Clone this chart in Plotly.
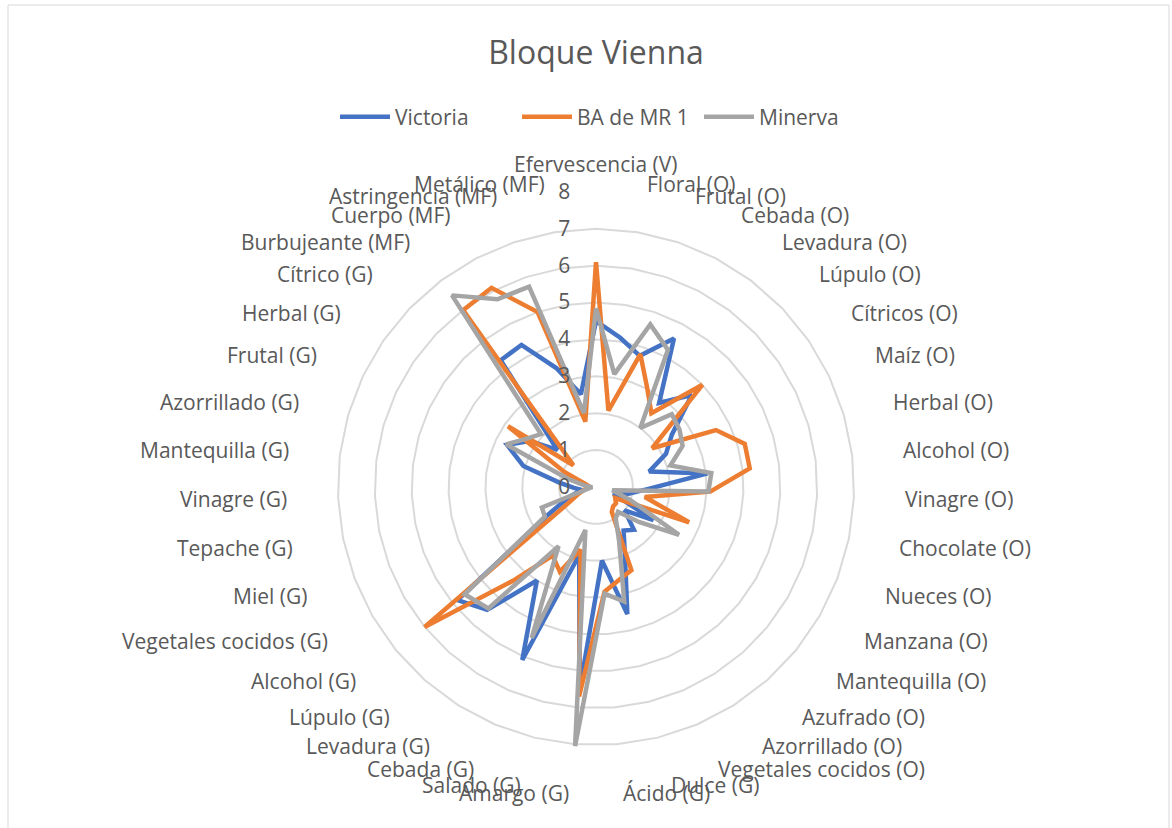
import math
import plotly.graph_objects as go

categories = ["Efervescencia (V)", "Floral (O)", "Frutal (O)", "Cebada (O)", "Levadura (O)",
              "Lúpulo (O)", "Cítricos (O)", "Maíz (O)", "Herbal (O)", "Alcohol (O)",
              "Vinagre (O)", "Chocolate (O)", "Nueces (O)", "Manzana (O)", "Mantequilla (O)",
              "Azufrado (O)", "Azorrillado (O)", "Vegetales cocidos (O)", "Dulce (G)", "Ácido (G)",
              "Amargo (G)", "Salado (G)", "Cebada (G)", "Levadura (G)", "Lúpulo (G)",
              "Alcohol (G)", "Vegetales cocidos (G)", "Miel (G)", "Tepache (G)", "Vinagre (G)",
              "Mantequilla (G)", "Azorrillado (G)", "Frutal (G)", "Herbal (G)", "Cítrico (G)",
              "Burbujeante (MF)", "Cuerpo (MF)", "Astringencia (MF)", "Metálico (MF)"]

victoria = [4.5, 4.1, 3.75, 4.55, 2.85, 3.6, 2.5, 2.1, 1.5, 3.05,
            1.4, 0.9, 0.5, 1.8, 1.0, 1.55, 1.4, 2.0, 3.55, 2.0,
            5.5, 1.9, 5.1, 3.0, 4.45, 4.85, 1.5, 0.8, 0.4, 0.6,
            1.0, 2.05, 2.67, 2.2, 1.45, 4.3, 4.35, 3.4, 2.55]

ba_mr1 = [6.1, 2.1, 3.8, 3.0, 2.5, 4.0, 1.85, 3.6, 4.2, 4.2,
          3.1, 1.35, 2.7, 0.6, 0.7, 0.7, 0.8, 2.45, 2.6, 2.85,
          5.7, 1.75, 2.5, 2.2, 3.4, 6.0, 0.85, 0.5, 0.3, 0.2,
          0.2, 0.3, 0.95, 2.9, 0.85, 6.0, 6.1, 5.0, 1.8]

minerva = [4.85, 3.1, 4.65, 4.2, 2.0, 2.85, 2.75, 2.6, 2.1, 3.15,
           3.05, 0.45, 1.0, 2.6, 1.5, 0.9, 1.0, 1.6, 3.2, 2.9,
           7.05, 1.2, 4.45, 1.9, 4.4, 4.6, 1.6, 1.57, 0.2, 0.1,
           0.3, 0.8, 2.7, 2.3, 2.07, 6.5, 5.75, 5.73, 2.03]

series_names = ["Victoria", "BA de MR 1", "Minerva"]
series_values = [victoria, ba_mr1, minerva]
series_colors = ["#4472C4", "#ED7D31", "#A5A5A5"]

radial_ticks = [0, 1, 2, 3, 4, 5, 6, 7, 8]

FONT = "Open Sans"
TXT = "#595959"

fig = go.Figure()
for name, vals, col in zip(series_names, series_values, series_colors):
    fig.add_trace(go.Scatterpolar(
        r=vals + vals[:1],
        theta=categories + categories[:1],
        mode="lines",
        name=name,
        line=dict(color=col, width=4.5),
    ))

W, H = 1172, 828
cx, cy, R = 596, 487, 295
LABEL_R = R + 12

# Category labels placed around the circle like the spreadsheet does
annotations = []
n = len(categories)
for k, cat in enumerate(categories):
    ang = math.radians(k * 360.0 / n)
    s, c = math.sin(ang), math.cos(ang)
    px = cx + LABEL_R * s
    py = cy - LABEL_R * c
    if abs(s) < 1e-6:
        xa = "center"
        ya = "bottom" if c > 0 else "top"
    else:
        xa = "left" if s > 0 else "right"
        ya = "middle"
    annotations.append(dict(
        text=cat, x=px / W, y=1 - py / H, xref="paper", yref="paper",
        xanchor=xa, yanchor=ya, showarrow=False,
        font=dict(family=FONT, size=21, color=TXT),
    ))

fig.update_layout(
    width=W, height=H,
    margin=dict(l=0, r=0, t=0, b=0),
    paper_bgcolor="white",
    plot_bgcolor="white",
    font=dict(family=FONT, color=TXT, size=21),
    title=dict(text="Bloque Vienna", x=596 / W, xanchor="center", y=1 - 53 / H, yanchor="middle",
               font=dict(family=FONT, size=32, color=TXT)),
    legend=dict(orientation="h", x=608 / W, xanchor="center", y=1 - 117 / H, yanchor="middle",
                font=dict(family=FONT, size=21, color=TXT), itemwidth=50,
                entrywidth=117, entrywidthmode="pixels", bgcolor="rgba(0,0,0,0)"),
    polar=dict(
        domain=dict(x=[(cx - R) / W, (cx + R) / W], y=[(H - cy - R) / H, (H - cy + R) / H]),
        bgcolor="white",
        gridshape="linear",
        angularaxis=dict(direction="clockwise", rotation=90, showgrid=False,
                         showline=False, ticks="", showticklabels=False,
                         categoryorder="array", categoryarray=categories),
        radialaxis=dict(range=[0, 8], tickvals=radial_ticks, showline=False,
                        ticks="outside", ticklen=18, tickcolor="rgba(0,0,0,0)",
                        gridcolor="#d9d9d9", gridwidth=1.8, angle=90, tickangle=90,
                        side="counterclockwise",
                        tickfont=dict(family=FONT, size=21, color=TXT)),
    ),
    annotations=annotations,
    shapes=[dict(type="rect", xref="paper", yref="paper", x0=8 / W, x1=1169 / W,
                 y0=-0.01, y1=1 - 5 / H, line=dict(color="#d9d9d9", width=1))],
)

fig.write_html("out.html", config={"displayModeBar": False},
               post_script="document.body.style.margin='0';")
